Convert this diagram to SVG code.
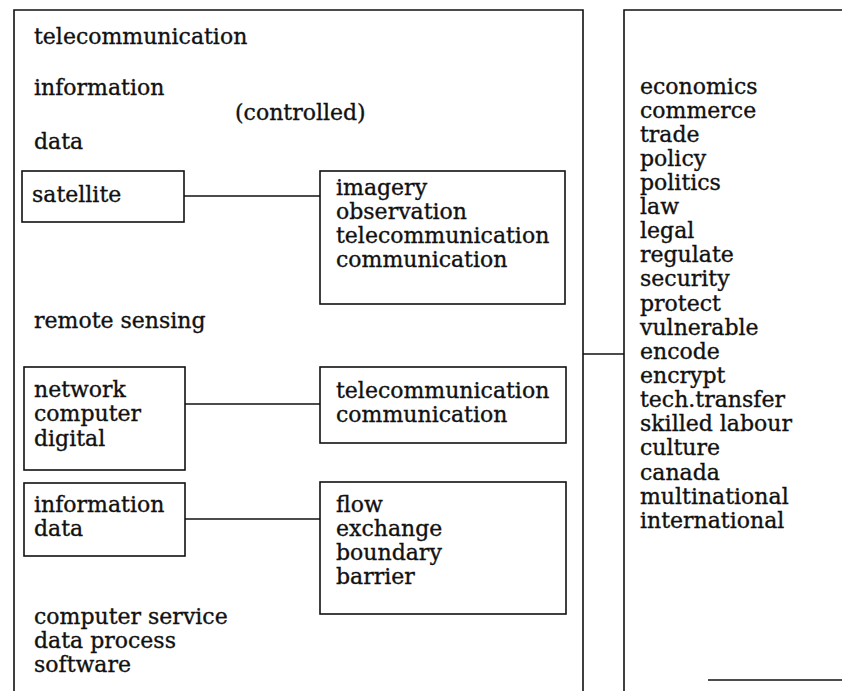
<svg xmlns="http://www.w3.org/2000/svg" width="842" height="691" viewBox="0 0 842 691">
<style>
text{font-family:"DejaVu Serif","Liberation Serif",serif;font-size:22px;fill:#111;stroke:#111;stroke-width:0.35}
.b{fill:none;stroke:#111;stroke-width:1.6}
.c{stroke:#111;stroke-width:1.4;fill:none}
</style>
<rect width="842" height="691" fill="#fff"/>
<g id="left-panel">
<path class="b" d="M14,691 V10 H583 V691"/>
<text x="34" y="44">telecommunication</text>
<text x="34" y="95">information</text>
<text x="235" y="120">(controlled)</text>
<text x="34" y="149">data</text>
<text x="34" y="328">remote sensing</text>
<text x="34" y="624">computer service</text>
<text x="34" y="648">data process</text>
<text x="34" y="672">software</text>
</g>
<g id="right-panel">
<path class="b" d="M842,10 H624 V691"/>
<path class="b" d="M708,680 H842"/>
<text x="640" y="94">economics</text>
<text x="640" y="118">commerce</text>
<text x="640" y="142">trade</text>
<text x="640" y="166">policy</text>
<text x="640" y="190">politics</text>
<text x="640" y="214">law</text>
<text x="640" y="238">legal</text>
<text x="640" y="262">regulate</text>
<text x="640" y="286">security</text>
<text x="640" y="311">protect</text>
<text x="640" y="335">vulnerable</text>
<text x="640" y="359">encode</text>
<text x="640" y="383">encrypt</text>
<text x="640" y="407">tech.transfer</text>
<text x="640" y="431">skilled labour</text>
<text x="640" y="455">culture</text>
<text x="640" y="480">canada</text>
<text x="640" y="504">multinational</text>
<text x="640" y="528">international</text>
</g>
<g id="satellite">
<rect class="b" x="22" y="171" width="162" height="51"/>
<text x="32" y="202">satellite</text>
</g>
<g id="imagery">
<rect class="b" x="320" y="171" width="245" height="133"/>
<text x="336" y="195">imagery</text>
<text x="336" y="219">observation</text>
<text x="336" y="243">telecommunication</text>
<text x="336" y="267">communication</text>
</g>
<g id="network">
<rect class="b" x="24" y="367" width="161" height="103"/>
<text x="34" y="397">network</text>
<text x="34" y="421">computer</text>
<text x="34" y="446">digital</text>
</g>
<g id="telecom">
<rect class="b" x="320" y="367" width="246" height="76"/>
<text x="336" y="398">telecommunication</text>
<text x="336" y="422">communication</text>
</g>
<g id="infodata">
<rect class="b" x="24" y="483" width="161" height="73"/>
<text x="34" y="512">information</text>
<text x="34" y="536">data</text>
</g>
<g id="flow">
<rect class="b" x="320" y="482" width="246" height="132"/>
<text x="336" y="512">flow</text>
<text x="336" y="536">exchange</text>
<text x="336" y="560">boundary</text>
<text x="336" y="584">barrier</text>
</g>
<g id="connectors">
<line class="c" x1="184" y1="196" x2="320" y2="196"/>
<line class="c" x1="185" y1="404" x2="320" y2="404"/>
<line class="c" x1="185" y1="519" x2="320" y2="519"/>
<line class="c" x1="583" y1="354" x2="624" y2="354"/>
</g>
</svg>
